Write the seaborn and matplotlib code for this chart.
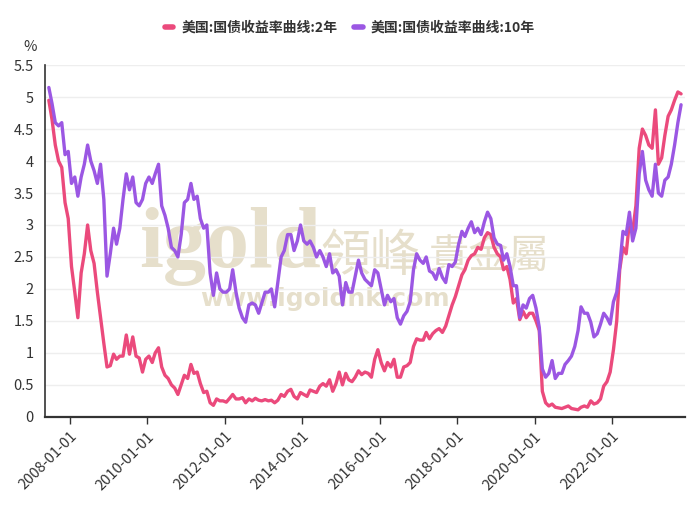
import numpy as np
import pandas as pd
import seaborn as sns
import matplotlib.pyplot as plt
from matplotlib.lines import Line2D

# 月度数据 2007-06 ~ 2023-10
start_month = '2007-06-01'
end_month = '2023-10-01'

y10 = [5.15, 4.90, 4.60, 4.55, 4.60, 4.10, 4.15,
       3.65, 3.75, 3.45, 3.75, 3.95, 4.25, 4.00, 3.85, 3.65, 3.95, 3.40, 2.20,
       2.55, 2.95, 2.70, 2.95, 3.40, 3.80, 3.55, 3.75, 3.35, 3.30, 3.40, 3.65,
       3.75, 3.65, 3.80, 3.95, 3.30, 3.15, 2.95, 2.65, 2.60, 2.50, 2.85, 3.35,
       3.40, 3.65, 3.40, 3.45, 3.10, 2.95, 3.00, 2.25, 1.90, 2.25, 2.00, 1.95,
       1.95, 2.00, 2.30, 1.95, 1.70, 1.55, 1.48, 1.75, 1.78, 1.75, 1.62, 1.78,
       1.95, 1.95, 2.00, 1.72, 2.10, 2.50, 2.60, 2.85, 2.85, 2.60, 2.75, 3.00,
       2.75, 2.70, 2.75, 2.65, 2.50, 2.60, 2.50, 2.35, 2.55, 2.25, 2.30, 2.20,
       1.75, 2.10, 1.95, 1.95, 2.20, 2.45, 2.25, 2.15, 2.10, 2.05, 2.30, 2.25,
       2.00, 1.75, 1.90, 1.80, 1.85, 1.55, 1.45, 1.58, 1.65, 1.80, 2.30, 2.55,
       2.45, 2.40, 2.50, 2.28, 2.25, 2.15, 2.32, 2.18, 2.10, 2.38, 2.35, 2.42,
       2.70, 2.90, 2.82, 2.95, 3.05, 2.88, 2.95, 2.85, 3.05, 3.20, 3.10, 2.80,
       2.70, 2.68, 2.45, 2.55, 2.35, 2.05, 2.05, 1.55, 1.75, 1.70, 1.85, 1.90,
       1.70, 1.40, 0.75, 0.62, 0.68, 0.88, 0.60, 0.68, 0.68, 0.82, 0.88, 0.95,
       1.10, 1.35, 1.72, 1.62, 1.62, 1.48, 1.25, 1.30, 1.45, 1.62, 1.55, 1.45,
       1.80, 1.95, 2.35, 2.90, 2.85, 3.20, 2.75, 2.95, 3.80, 4.15, 3.70, 3.55,
       3.45, 3.95, 3.50, 3.45, 3.70, 3.75, 3.95, 4.25, 4.60, 4.88]

y2 = [4.95, 4.65, 4.25, 4.00, 3.90, 3.35, 3.10,
      2.35, 1.95, 1.55, 2.25, 2.55, 3.00, 2.60, 2.40, 1.95, 1.55, 1.15, 0.78,
      0.80, 0.98, 0.90, 0.95, 0.95, 1.28, 0.98, 1.25, 0.95, 0.92, 0.70, 0.90,
      0.95, 0.85, 1.00, 1.08, 0.78, 0.65, 0.60, 0.50, 0.45, 0.35, 0.50, 0.65,
      0.60, 0.82, 0.68, 0.70, 0.52, 0.38, 0.40, 0.22, 0.18, 0.28, 0.25, 0.25,
      0.23, 0.29, 0.35, 0.28, 0.28, 0.30, 0.22, 0.28, 0.25, 0.29, 0.26, 0.25,
      0.27, 0.25, 0.26, 0.22, 0.26, 0.35, 0.32, 0.40, 0.43, 0.32, 0.28, 0.38,
      0.35, 0.32, 0.42, 0.40, 0.38, 0.48, 0.52, 0.48, 0.58, 0.40, 0.52, 0.70,
      0.50, 0.68, 0.58, 0.55, 0.62, 0.72, 0.66, 0.70, 0.68, 0.62, 0.90, 1.05,
      0.85, 0.72, 0.85, 0.78, 0.90, 0.62, 0.62, 0.78, 0.80, 0.85, 1.10, 1.22,
      1.20, 1.20, 1.32, 1.22, 1.30, 1.35, 1.38, 1.32, 1.42, 1.58, 1.75, 1.88,
      2.05, 2.22, 2.30, 2.45, 2.52, 2.55, 2.65, 2.62, 2.80, 2.88, 2.85, 2.65,
      2.55, 2.50, 2.30, 2.35, 2.15, 1.78, 1.85, 1.52, 1.65, 1.55, 1.62, 1.62,
      1.50, 1.35, 0.40, 0.22, 0.17, 0.20, 0.15, 0.14, 0.13, 0.15, 0.17, 0.13,
      0.12, 0.11, 0.15, 0.17, 0.15, 0.25, 0.20, 0.22, 0.28, 0.48, 0.55, 0.70,
      1.05, 1.50, 2.30, 2.65, 2.55, 3.05, 2.90, 3.30, 4.20, 4.50, 4.40, 4.25,
      4.20, 4.80, 3.95, 4.05, 4.40, 4.70, 4.80, 4.95, 5.08, 5.05]

name2 = '美国:国债收益率曲线:2年'
name10 = '美国:国债收益率曲线:10年'
c2 = '#eb4a7c'
c10 = '#9b57e3'

dates = pd.date_range(start_month, end_month, freq='MS') + pd.Timedelta(days=14)
df = pd.DataFrame({'date': np.concatenate([dates, dates]),
                   'value': y2 + y10,
                   'series': [name2] * len(y2) + [name10] * len(y10)})

sns.set_theme(style='white')
plt.rcParams['font.family'] = ['Noto Sans CJK SC', 'DejaVu Sans']

fig, ax = plt.subplots(figsize=(7, 5.25), dpi=100)
fig.subplots_adjust(left=0.064, right=0.979, top=0.876, bottom=0.206)

# 水印
wm = '#e6dfcb'
ax.text(0.148, 0.425, 'igold', transform=ax.transAxes, fontsize=62,
        family='Liberation Serif', weight='bold', color=wm, zorder=0)
ax.text(0.43, 0.415, '領峰', transform=ax.transAxes, fontsize=36,
        family='Noto Sans CJK TC', weight='light', color=wm, zorder=0)
ax.text(0.6, 0.425, '貴金屬', transform=ax.transAxes, fontsize=29,
        family='Noto Sans CJK TC', weight='light', color=wm, zorder=0)
ax.text(0.242, 0.315, 'www.igoldhk.com', transform=ax.transAxes, fontsize=18,
        family='DejaVu Sans', weight='bold', color=wm, zorder=0)

sns.lineplot(data=df, x='date', y='value', hue='series',
             palette={name2: c2, name10: c10}, hue_order=[name2, name10],
             linewidth=2.4, legend=False, ax=ax, zorder=3)

ax.set_xlim(pd.Timestamp('2007-05-08'), pd.Timestamp('2023-11-24'))
ax.set_ylim(0, 5.5)
yt = np.arange(0, 5.51, 0.5)
ax.set_yticks(yt)
ax.set_yticklabels(['{:g}'.format(v) for v in yt])
xt = pd.to_datetime(['%d-01-01' % y for y in range(2008, 2023, 2)])
ax.set_xticks(xt)
ax.set_xticklabels([d.strftime('%Y-%m-%d') for d in xt], rotation=45,
                   ha='right', rotation_mode='anchor')
ax.set_xlabel('')
ax.set_ylabel('')

ax.yaxis.grid(True, color='#eeeeee', linewidth=1)
ax.xaxis.grid(False)
for s in ['top', 'right']:
    ax.spines[s].set_visible(False)
ax.spines['left'].set_color('#333333')
ax.spines['left'].set_linewidth(1.2)
ax.spines['bottom'].set_color('#333333')
ax.spines['bottom'].set_linewidth(1.6)
ax.tick_params(axis='y', length=0, pad=8, labelsize=10.5, labelcolor='#333333')
ax.tick_params(axis='x', length=5, width=1, color='#333333', pad=4,
               labelsize=10.5, labelcolor='#333333', bottom=True)

fig.text(0.043, 0.903, '%', fontsize=10.5, color='#333333', ha='center')

handles = [Line2D([0], [0], color=c2, lw=4, solid_capstyle='round'),
           Line2D([0], [0], color=c10, lw=4, solid_capstyle='round')]
fig.legend(handles, [name2, name10], loc='center', bbox_to_anchor=(0.5, 0.947),
           ncol=2, frameon=False, handlelength=0.6, handletextpad=0.6,
           columnspacing=1.2, prop={'size': 10, 'weight': 'bold'},
           labelcolor='#333333')

fig.savefig('out.png', dpi=100)
